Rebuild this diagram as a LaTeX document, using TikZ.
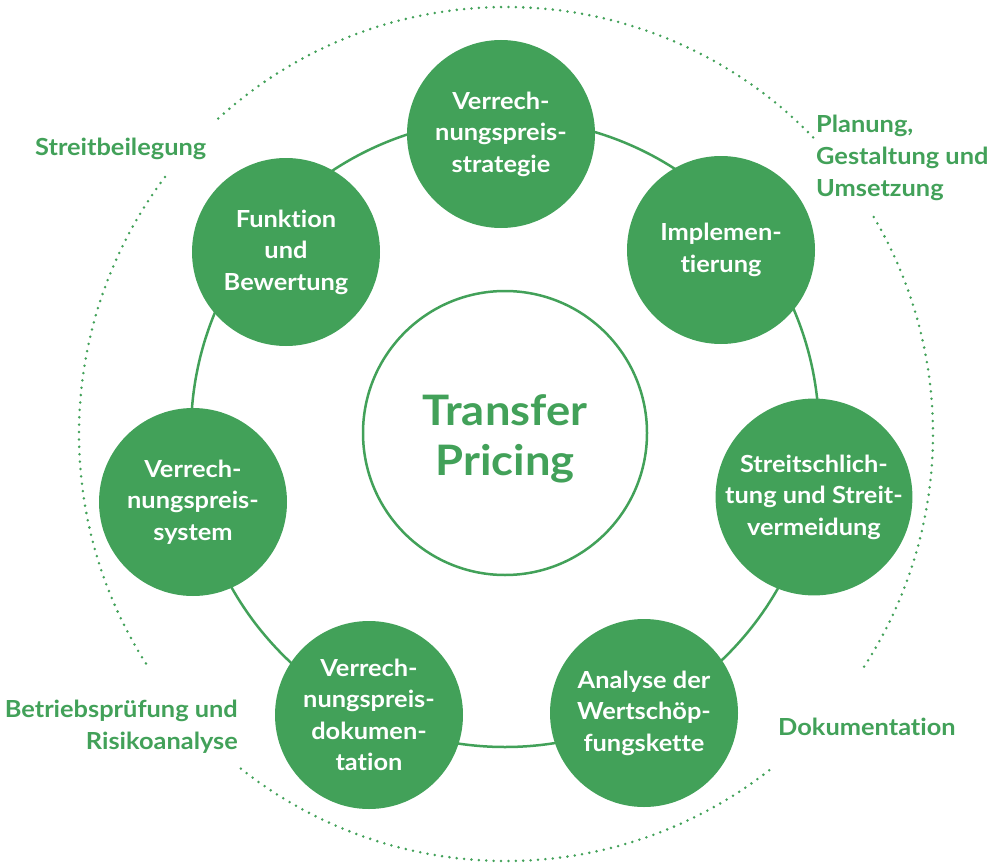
\documentclass[tikz,border=0pt]{standalone}
\usepackage{fontspec}
\setmainfont{Lato}[FakeStretch=1.08, Ligatures={NoCommon,NoRare}]
\definecolor{tpgreen}{RGB}{66,161,89}
\tikzset{
  ringline/.style={draw=tpgreen, line width=2.5pt},
  bubble/.style={circle, fill=tpgreen, draw=none, minimum size=188pt, inner sep=0pt,
    text=white, align=center, font=\fontsize{23.5}{31.5}\selectfont\bfseries},
  hub/.style={circle, fill=white, draw=tpgreen, line width=2.5pt, minimum size=284pt, inner sep=0pt},
  hubtext/.style={text=tpgreen, align=center, inner sep=0pt, font=\fontsize{42}{50}\selectfont\bfseries},
  dotline/.style={draw=tpgreen, line width=2.8pt, line cap=round, dash pattern=on 0pt off 7.4pt},
  phase/.style={text=tpgreen, inner sep=0pt, font=\fontsize{23.5}{32}\selectfont\bfseries}
}
\begin{document}
\begin{tikzpicture}[x=1pt,y=-1pt]
\useasboundingbox (0,0) rectangle (1001,864);
% outer dotted circle, in four arcs
\coordinate (D) at (506,434);
\draw[dotline] (D) ++(-44:427) arc[start angle=-44, end angle=-132.6, radius=427];
\draw[dotline] (D) ++(-143:427) arc[start angle=-143, end angle=-212.8, radius=427];
\draw[dotline] (D) ++(-231.6:427) arc[start angle=-231.6, end angle=-309, radius=427];
\draw[dotline] (D) ++(33:427) arc[start angle=33, end angle=-30.7, radius=427];
% inner ring
\coordinate (O) at (505,433);
\draw[ringline] (O) circle[radius=314];
% hub
\node[hub] (tp) at (O) {};
\node[hubtext] (tpt) at ([yshift=-6pt]tp.center) {Transfer\\Pricing};
% bubbles
\node[bubble] (c1) at (501,134) {Verrech-\\nungspreis-\\strategie};
\node[bubble] (c2) at (721,250) {Implemen-\\tierung};
\node[bubble] (c3) at (814,497) {Streitschlich-\\tung und Streit-\\vermeidung};
\node[bubble] (c4) at (644,713) {Analyse der\\Wertschöp-\\fungskette};
\node[bubble] (c5) at (369,715) {Verrech-\\nungspreis-\\dokumen-\\tation};
\node[bubble] (c6) at (193,502) {Verrech-\\nungspreis-\\system};
\node[bubble] (c7) at (286,252) {Funktion\\und\\Bewertung};
% phase labels
\node[phase, anchor=base west] (l1) at (35,155) {Streitbeilegung};
\node[phase, anchor=north west, align=left] (l2) at (816,115) {Planung,\\Gestaltung und\\Umsetzung};
\node[phase, anchor=north east, align=right] (l3) at (238,700) {Betriebsprüfung und\\Risikoanalyse};
\node[phase, anchor=base west] (l4) at (778,735) {Dokumentation};
\end{tikzpicture}
\end{document}
